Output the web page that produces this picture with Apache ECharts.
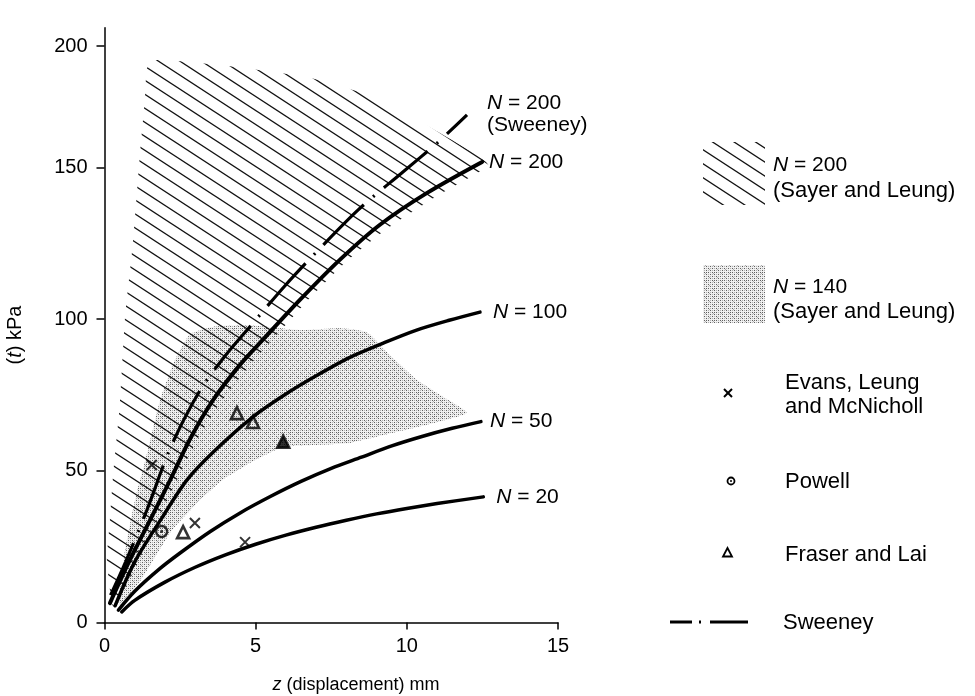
<!DOCTYPE html>
<html>
<head>
<meta charset="utf-8">
<script src="https://cdn.jsdelivr.net/npm/echarts@6/dist/echarts.min.js"></script>
<style>
  html, body { margin: 0; padding: 0; background: #fff; }
  #chart { width: 975px; height: 696px; }
</style>
</head>
<body>
<div id="chart"></div>
<script>
// Shear stress against displacement for repeated loading (N = number of cycles)
const n20X = [0.57, 1.0, 2.0, 3.0, 4.0, 5.0, 6.0, 7.0, 8.0, 9.0, 10.0, 11.0, 12.53];
const n20Y = [3.5, 7.3, 13.3, 18.2, 22.3, 25.8, 28.8, 31.4, 33.7, 35.8, 37.6, 39.2, 41.4];

const n50X = [0.46, 1.0, 1.8, 2.5, 3.5, 4.5, 5.5, 6.5, 7.5, 8.5, 9.5, 10.5, 11.5, 12.45];
const n50Y = [4.1, 10.3, 17.5, 22.9, 30.0, 36.2, 41.6, 46.5, 50.8, 54.5, 58.2, 61.3, 64.0, 66.2];

const n100X = [0.35, 1.0, 1.9, 2.73, 3.6, 4.9, 6.0, 7.0, 8.1, 9.2, 10.3, 11.4, 12.42];
const n100Y = [5.5, 20.0, 34.5, 47.0, 56.2, 67.7, 75.3, 81.3, 87.3, 92.0, 96.3, 99.6, 102.3];

const n200X = [0.18, 0.84, 1.51, 2.17, 2.83, 3.59, 4.48, 5.24, 6.47, 7.79, 9.11, 10.67, 12.49];
const n200Y = [6.4, 20.6, 33.8, 46.9, 60.5, 73.3, 84.9, 93.2, 106.4, 119.6, 131.1, 141.6, 151.8];

// Sweeney, N = 200
const sweX = [0.2, 0.7, 1.4, 2.2, 3.16, 4.0, 4.81, 5.97, 7.0, 8.39, 9.87, 11.0, 11.99];
const sweY = [9.0, 20.0, 37.0, 58.0, 76.5, 88.0, 97.5, 111.0, 122.0, 136.0, 148.5, 158.0, 167.3];

// Sayer and Leung, N = 200 (hatched band)
const hatchX = [0.25, 0.08, 0.18, 0.28, 0.51, 0.68, 0.94, 1.17, 1.34, 1.41,
                1.74, 3.82, 6.70, 8.55, 10.17, 12.42,
                12.7, 10.9, 9.3, 8.0, 6.7, 5.45, 4.7, 3.8, 3.05, 2.45, 1.8, 1.15, 0.6, 0.35];
const hatchY = [5.8, 20.6, 33.8, 48.0, 72.3, 100.7, 125.1, 154.1, 172.9, 182.8,
                185.4, 183.7, 179.7, 174.4, 166.5, 153.5,
                150.5, 140.0, 129.5, 119.0, 106.0, 92.0, 83.5, 72.0, 60.0, 48.0, 34.5, 20.5, 9.5, 5.5];

// Sayer and Leung, N = 140 (stippled band)
const stipX = [0.45, 0.68, 1.01, 1.44, 1.84, 2.33, 2.83, 3.6, 4.81, 6.47, 7.79, 8.68, 9.44, 10.34, 11.10, 11.99,
               10.6, 9.54, 8.12, 6.9, 5.90, 4.81, 3.9, 3.16, 2.2, 1.2, 0.51];
const stipY = [7.4, 23.9, 40.4, 56.9, 73.3, 86.5, 95.0, 97.5, 98.0, 96.4, 97.0, 95.7, 88.2, 79.9, 75.0, 69.1,
               65.0, 62.5, 59.2, 58.5, 57.8, 52.6, 47.0, 40.4, 30.0, 14.0, 5.8];

// Test points
const evansX = [1.56, 2.99, 4.65];
const evansY = [51.9, 32.8, 26.5];
const powellX = [1.89];
const powellY = [30.0];
const fraserX = [2.60, 4.38, 4.91, 5.91];
const fraserY = [29.8, 69.0, 66.1, 59.6];

const xTickValues = [0, 5, 10, 15];
const yTickValues = [0, 50, 100, 150, 190];
const yTickLabels = ['0', '50', '100', '150', '200'];

const FONT = '"Liberation Sans", Arial, Helvetica, sans-serif';

function pairs(xs, ys) { return xs.map((x, i) => [x, ys[i]]); }

// Diagonal hatch tile (seamless: one full line rise per tile width)
function makeHatch() {
  const c = document.createElement('canvas');
  c.width = 43; c.height = 28;
  const g = c.getContext('2d');
  g.strokeStyle = '#111';
  g.lineWidth = 1.3;
  for (let k = -3; k <= 3; k++) {
    g.beginPath();
    g.moveTo(-5, k * 14 - 5 * 28 / 43);
    g.lineTo(48, k * 14 + 48 * 28 / 43);
    g.stroke();
  }
  return c;
}

// Ordered-dither stipple tile
function makeStipple() {
  const bayer = [
    [0, 32, 8, 40, 2, 34, 10, 42],
    [48, 16, 56, 24, 50, 18, 58, 26],
    [12, 44, 4, 36, 14, 46, 6, 38],
    [60, 28, 52, 20, 62, 30, 54, 22],
    [3, 35, 11, 43, 1, 33, 9, 41],
    [51, 19, 59, 27, 49, 17, 57, 25],
    [15, 47, 7, 39, 13, 45, 5, 37],
    [63, 31, 55, 23, 61, 29, 53, 21]
  ];
  const c = document.createElement('canvas');
  c.width = 8; c.height = 8;
  const g = c.getContext('2d');
  g.fillStyle = 'rgba(240,240,240,1)';
  g.fillRect(0, 0, 8, 8);
  for (let r = 0; r < 8; r++) for (let q = 0; q < 8; q++) {
    const v = bayer[r][q];
    if (v < 9) { g.fillStyle = 'rgba(70,70,70,0.85)'; g.fillRect(q, r, 1, 1); }
    else if (v < 18) { g.fillStyle = 'rgba(160,160,160,0.8)'; g.fillRect(q, r, 1, 1); }
  }
  return c;
}

const hatchFill = { image: makeHatch(), repeat: 'repeat' };
const stipFill = { image: makeStipple(), repeat: 'repeat' };

function regionSeries(name, xs, ys, fill, z) {
  return {
    type: 'custom', name, z, silent: true,
    data: [[0, 0]],
    renderItem: (params, api) => ({
      type: 'polygon',
      shape: { points: xs.map((x, i) => api.coord([x, ys[i]])), smooth: 0.15 },
      style: { fill: fill, stroke: null }
    })
  };
}

const richN = {
  i: { fontStyle: 'italic', fontSize: 21, fontFamily: FONT, color: '#000' },
  t: { fontSize: 21, fontFamily: FONT, color: '#000', lineHeight: 22 }
};

function curve(name, xs, ys, label, dist, offset, width) {
  return {
    type: 'line', name, z: 5,
    data: pairs(xs, ys),
    smooth: 0.3,
    showSymbol: false,
    lineStyle: { color: '#000', width: width || 3.5, cap: 'round' },
    endLabel: {
      show: true, distance: dist, offset: offset || [0, 0],
      formatter: label, rich: richN, align: 'left'
    },
    emphasis: { disabled: true }
  };
}

const chart = echarts.init(document.getElementById('chart'));

const legendText = (x, y, text) => ({
  type: 'text', x, y,
  style: { text, font: '22px ' + FONT, fill: '#000', verticalAlign: 'middle' }
});
const legendRich = (x, y, text) => ({
  type: 'text', x, y,
  style: { text, rich: { i: { fontStyle: 'italic', fontSize: 21, fontFamily: FONT }, t: { fontSize: 21, fontFamily: FONT } },
           font: '21px ' + FONT, fill: '#000', verticalAlign: 'middle' }
});

const option = {
  animation: false,
  backgroundColor: '#fff',
  grid: { left: 104.5, right: 417, top: 27.8, bottom: 73.5, outerBoundsMode: 'none' },
  xAxis: {
    type: 'value', min: 0, max: 15, interval: 5,
    axisLine: { lineStyle: { color: '#000', width: 1.5 } },
    axisTick: { show: true, length: 7, lineStyle: { color: '#000', width: 1.5 } },
    axisLabel: { color: '#000', fontSize: 20, fontFamily: FONT, margin: 14 },
    splitLine: { show: false }
  },
  yAxis: {
    type: 'value', min: 0, max: 196,
    axisLine: { show: true, lineStyle: { color: '#000', width: 1.5 } },
    axisTick: { show: true, length: 8, customValues: yTickValues, lineStyle: { color: '#000', width: 1.5 } },
    axisLabel: {
      color: '#000', fontSize: 20, fontFamily: FONT, margin: 17,
      customValues: yTickValues,
      formatter: v => yTickLabels[yTickValues.indexOf(v)]
    },
    splitLine: { show: false }
  },
  series: [
    regionSeries('N = 140 (Sayer and Leung)', stipX, stipY, stipFill, 1),
    regionSeries('N = 200 (Sayer and Leung)', hatchX, hatchY, hatchFill, 2),
    curve('N = 20', n20X, n20Y, '{i|N}{t| = 20}', 13),
    curve('N = 50', n50X, n50Y, '{i|N}{t| = 50}', 9),
    curve('N = 100', n100X, n100Y, '{i|N}{t| = 100}', 13),
    curve('N = 200', n200X, n200Y, '{i|N}{t| = 200}', 7, [0, 0], 4),
    {
      type: 'line', name: 'Sweeney', z: 6,
      data: pairs(sweX, sweY),
      smooth: 0.3, showSymbol: false,
      lineStyle: { color: '#000', width: 3.2, type: [57, 12, 2, 12] },
      endLabel: {
        show: true, distance: 20, offset: [0, -1], align: 'left',
        formatter: '{i|N}{t| = 200}\n{t|(Sweeney)}', rich: richN
      },
      emphasis: { disabled: true }
    },
    {
      type: 'scatter', name: 'Evans, Leung and McNicholl', z: 8,
      data: pairs(evansX, evansY),
      symbol: 'path://M0,0L10,10M10,0L0,10', symbolSize: 10,
      itemStyle: { color: 'rgba(0,0,0,0)', borderColor: '#000', borderWidth: 2 },
      emphasis: { disabled: true }
    },
    {
      type: 'scatter', name: 'Powell', z: 8,
      data: pairs(powellX, powellY),
      symbol: 'circle', symbolSize: 11,
      itemStyle: { color: 'rgba(0,0,0,0)', borderColor: '#000', borderWidth: 2.4 },
      emphasis: { disabled: true }
    },
    {
      type: 'scatter', name: 'Powell centre', z: 9,
      data: pairs(powellX, powellY),
      symbol: 'circle', symbolSize: 3,
      itemStyle: { color: '#000' },
      emphasis: { disabled: true }
    },
    {
      type: 'scatter', name: 'Fraser and Lai', z: 8,
      data: pairs(fraserX, fraserY).map((p, i) => i === 3
        ? { value: p, itemStyle: { color: '#000' } } : p),
      symbol: 'triangle', symbolSize: 12,
      itemStyle: { color: 'rgba(0,0,0,0)', borderColor: '#000', borderWidth: 2.6 },
      emphasis: { disabled: true }
    }
  ],
  graphic: [
    // Axis titles
    { type: 'text', x: 356, y: 685,
      style: { text: '{i|z} (displacement) mm', font: '18px ' + FONT, fill: '#000',
               rich: { i: { fontStyle: 'italic', fontSize: 18, fontFamily: FONT } },
               align: 'center', verticalAlign: 'middle' } },
    { type: 'text', x: 15, y: 335, rotation: Math.PI / 2,
      style: { text: '({i|t}) kPa', font: '20px ' + FONT, fill: '#000',
               rich: { i: { fontStyle: 'italic', fontSize: 20, fontFamily: FONT } },
               align: 'center', verticalAlign: 'middle' } },

    // Legend
    { type: 'rect', shape: { x: 703, y: 142, width: 62, height: 63 }, style: { fill: hatchFill } },
    legendRich(773, 165, '{i|N}{t| = 200}'),
    legendText(773, 191, '(Sayer and Leung)'),
    { type: 'rect', shape: { x: 703, y: 265, width: 62, height: 58 }, style: { fill: stipFill } },
    legendRich(773, 287, '{i|N}{t| = 140}'),
    legendText(773, 312, '(Sayer and Leung)'),

    { type: 'line', shape: { x1: 724, y1: 389, x2: 732, y2: 397 }, style: { stroke: '#000', lineWidth: 2 } },
    { type: 'line', shape: { x1: 732, y1: 389, x2: 724, y2: 397 }, style: { stroke: '#000', lineWidth: 2 } },
    legendText(785, 383, 'Evans, Leung'),
    legendText(785, 407, 'and McNicholl'),

    { type: 'circle', shape: { cx: 731, cy: 481, r: 3.5 }, style: { fill: 'none', stroke: '#000', lineWidth: 1.8 } },
    { type: 'circle', shape: { cx: 731, cy: 481, r: 1 }, style: { fill: '#000' } },
    legendText(785, 482, 'Powell'),

    { type: 'polygon', shape: { points: [[727.5, 548], [723, 556.5], [732, 556.5]] }, style: { fill: 'none', stroke: '#000', lineWidth: 1.8 } },
    legendText(785, 555, 'Fraser and Lai'),

    { type: 'line', shape: { x1: 670, y1: 622, x2: 692, y2: 622 }, style: { stroke: '#000', lineWidth: 3 } },
    { type: 'line', shape: { x1: 699, y1: 622, x2: 701, y2: 622 }, style: { stroke: '#000', lineWidth: 3 } },
    { type: 'line', shape: { x1: 710, y1: 622, x2: 748, y2: 622 }, style: { stroke: '#000', lineWidth: 3 } },
    legendText(783, 623, 'Sweeney')
  ]
};

chart.setOption(option);
</script>
</body>
</html>
